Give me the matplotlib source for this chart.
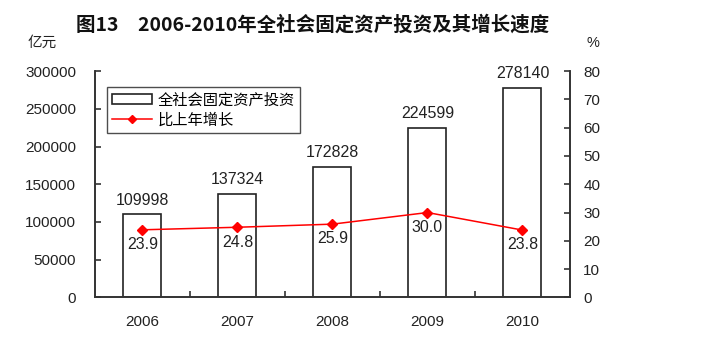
import numpy as np
import matplotlib.pyplot as plt
from matplotlib.patches import Patch
from matplotlib.lines import Line2D

plt.rcParams['font.family'] = ['Liberation Sans', 'Noto Sans CJK SC', 'DejaVu Sans']

# 数据
years = ['2006', '2007', '2008', '2009', '2010']
invest = [109998, 137324, 172828, 224599, 278140]   # 亿元
growth = [23.9, 24.8, 25.9, 30.0, 23.8]              # %

cn = ['Noto Sans CJK SC', 'DejaVu Sans']

fig = plt.figure(figsize=(7.1, 3.37), dpi=100)
ax = fig.add_axes([0.1338, 0.1175, 0.669, 0.6715])
ax2 = ax.twinx()

x = np.arange(len(years))
ax.bar(x, invest, width=0.4, facecolor='white', edgecolor='#222222', linewidth=1.2, zorder=2)
ax.set_xlim(-0.5, len(years) - 0.5)
ax.set_ylim(0, 300000)
ax.set_yticks(np.arange(0, 300001, 50000))
for xi, v in zip(x, invest):
    ax.text(xi, v + 9000, str(v), ha='center', va='bottom', fontsize=11.5, color='#222222')

# 增长速度折线
ax2.plot(x, growth, color='red', linewidth=1.1, marker='D', markersize=5, zorder=3)
ax2.set_ylim(0, 80)
ax2.set_yticks(np.arange(0, 81, 10))
for xi, g in zip(x, growth):
    ax2.text(xi, g - 2.6, '%.1f' % g, ha='center', va='top', fontsize=11.5, color='#222222')

# 坐标轴样式
for a in (ax, ax2):
    a.spines['top'].set_visible(False)
    for s in ('left', 'right', 'bottom'):
        a.spines[s].set_color('#333333')
        a.spines[s].set_linewidth(1.2)
    a.tick_params(axis='y', direction='in', length=4, width=1.2, color='#333333',
                  labelsize=11, labelcolor='#222222')
ax.tick_params(axis='y', pad=13.5)
ax2.tick_params(axis='y', pad=9.5)
ax.set_xticks(x)
ax.set_xticklabels(years)
ax.set_xticks(np.arange(0.5, len(years) - 1, 1), minor=True)
ax.tick_params(axis='x', which='major', length=0, pad=13, labelsize=11, labelcolor='#222222')
ax.tick_params(axis='x', which='minor', direction='in', length=4, width=1.2, color='#333333')
ax.set_yticklabels([str(v) for v in range(0, 300001, 50000)])

# 图例
handles = [Patch(facecolor='white', edgecolor='#222222', linewidth=1.2),
           Line2D([0], [0], color='red', linewidth=1.1, marker='D', markersize=4)]
leg = ax.legend(handles, ['全社会固定资产投资', '比上年增长'], loc='upper left',
                bbox_to_anchor=(0.01, 0.965), frameon=True, fancybox=False,
                prop={'family': cn, 'size': 11}, handlelength=2.6, handleheight=0.7,
                borderpad=0.3, labelspacing=0.2, handletextpad=0.4)
leg.get_frame().set_edgecolor('#222222')
leg.get_frame().set_linewidth(1.0)
leg.set_zorder(5)

# 标题与单位
fig.text(0.44, 0.925, '图13\u30002006-2010年全社会固定资产投资及其增长速度', ha='center', va='center',
         fontsize=14, fontweight='bold', family=cn, color='#111111')
fig.text(0.06, 0.872, '亿元', ha='center', va='center', fontsize=10.5, family=cn, color='#222222')
fig.text(0.835, 0.872, '%', ha='center', va='center', fontsize=10.5, color='#222222')

fig.savefig('out.png', dpi=100)
